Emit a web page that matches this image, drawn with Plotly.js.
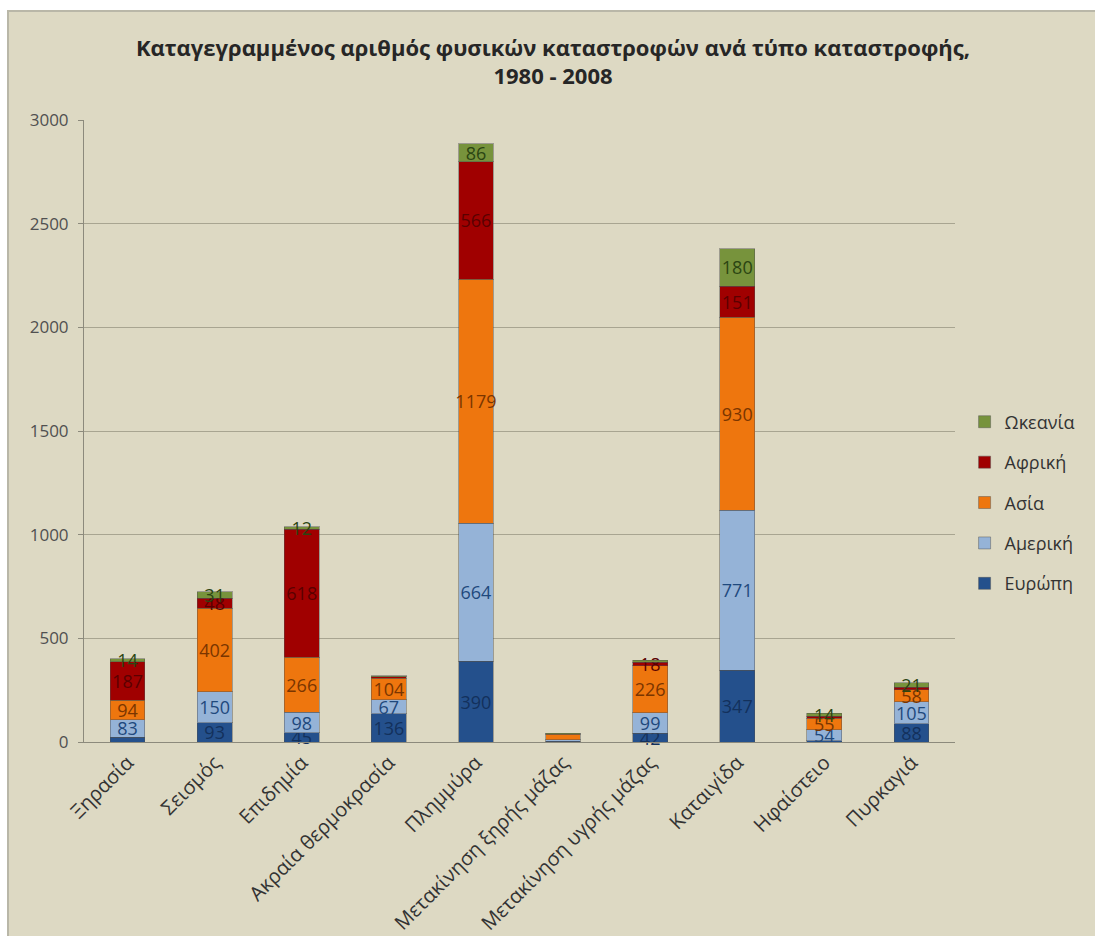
<!DOCTYPE html>
<html>
<head>
<meta charset="utf-8">
<script src="https://cdn.plot.ly/plotly-3.0.1.min.js"></script>
<style>
  html, body { margin: 0; padding: 0; background: #ffffff; }
  #frame { position: absolute; left: 7px; top: 10px; width: 1088px; height: 926px;
           box-sizing: border-box; border-left: 2px solid #b9b7a8; border-top: 2px solid #b9b7a8;
           background: #ddd9c3; }
  #chart { position: absolute; left: 1px; top: 1px; width: 1086px; height: 924px; }
</style>
</head>
<body>
<div id="frame"><div id="chart"></div></div>
<script>
const categories = ["Ξηρασία", "Σεισμός", "Επιδημία", "Ακραία θερμοκρασία", "Πλημμύρα",
  "Μετακίνηση ξηρής μάζας", "Μετακίνηση υγρής μάζας", "Καταιγίδα", "Ηφαίστειο", "Πυρκαγιά"];

const europe  = [24, 93, 45, 136, 390, 4, 42, 347, 6, 88];
const america = [83, 150, 98, 67, 664, 6, 99, 771, 54, 105];
const asia    = [94, 402, 266, 104, 1179, 28, 226, 930, 55, 58];
const africa  = [187, 48, 618, 8, 566, 3, 18, 151, 10, 14];
const oceania = [14, 31, 12, 4, 86, 2, 10, 180, 14, 21];

const seriesNames = ["Ευρώπη", "Αμερική", "Ασία", "Αφρική", "Ωκεανία"];
const yTicks = [0, 500, 1000, 1500, 2000, 2500, 3000];

const fillColors  = ["#24508c", "#95b3d7", "#ee760e", "#a00000", "#77933c"];
const labelColors = ["#13315c", "#1f497d", "#7a3500", "#5a0000", "#2b4512"];
const labelMin    = [30, 30, 30, 15, 11];

const seriesValues = [europe, america, asia, africa, oceania];

const traces = seriesValues.map((vals, i) => ({
  type: "bar",
  name: seriesNames[i],
  x: categories,
  y: vals,
  legendgroup: "g" + i,
  legendrank: 100 - i,
  marker: { color: fillColors[i], line: { color: "rgba(80,80,80,0.45)", width: 1 } },
  text: vals.map(v => v >= labelMin[i] ? String(v) : ""),
  textposition: "inside",
  insidetextanchor: "middle",
  textangle: 0,
  constraintext: "none",
  cliponaxis: false,
  textfont: { family: "Open Sans, sans-serif", size: 18, color: labelColors[i] },
  hoverinfo: "x+y+name"
}));

const layout = {
  width: 1086, height: 924,
  barmode: "stack",
  bargap: 0.6,
  paper_bgcolor: "#ddd9c3",
  plot_bgcolor: "#ddd9c3",
  margin: { l: 74, r: 141, t: 107, b: 195 },
  title: {
    text: "<b>Καταγεγραμμένος αριθμός φυσικών καταστροφών ανά τύπο καταστροφής,<br>1980 - 2008</b>",
    font: { family: "Open Sans, sans-serif", size: 22, color: "#262626" },
    x: 0.5, xanchor: "center", y: 0.954, yanchor: "top"
  },
  xaxis: {
    type: "category",
    tickangle: -45,
    tickfont: { family: "Open Sans, sans-serif", size: 20, color: "#333333" },
    showline: true, linecolor: "#8c8a7c", linewidth: 1,
    ticks: "", showgrid: false
  },
  yaxis: {
    range: [0, 3000],
    tickvals: yTicks,
    ticktext: yTicks.map(String),
    tickfont: { family: "Open Sans, sans-serif", size: 17, color: "#505050" },
    showline: true, linecolor: "#8c8a7c", linewidth: 1,
    ticks: "outside", ticklen: 5, tickcolor: "#8c8a7c",
    gridcolor: "#a8a591", gridwidth: 1,
    zeroline: false, ticklabelstandoff: 6
  },
  legend: {
    x: 1.011, xanchor: "left", y: 0.385, yanchor: "middle",
    traceorder: "grouped",
    tracegroupgap: 14,
    font: { family: "Open Sans, sans-serif", size: 18, color: "#333333" },
    bgcolor: "rgba(0,0,0,0)"
  },
  showlegend: true
};

Plotly.newPlot("chart", traces, layout, { displayModeBar: false, staticPlot: true });
</script>
</body>
</html>
